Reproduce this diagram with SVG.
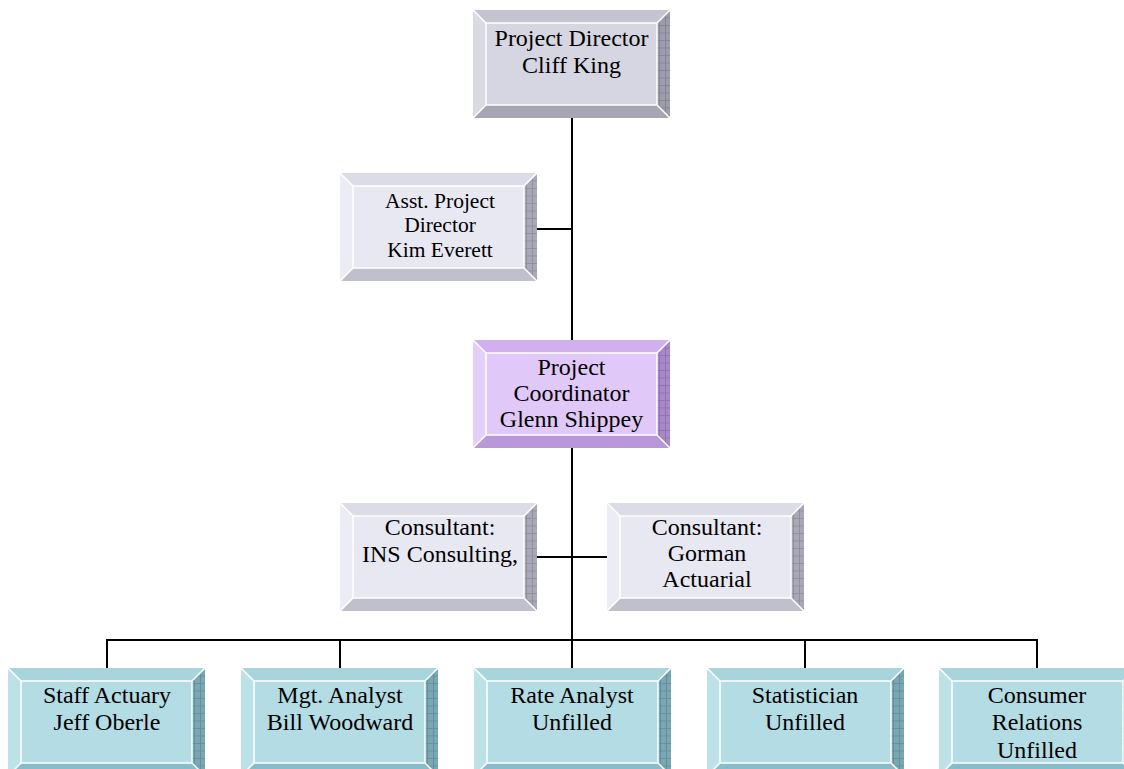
<svg xmlns="http://www.w3.org/2000/svg" width="1124" height="769" viewBox="0 0 1124 769">
<defs>
<pattern id="grid" width="6" height="7.5" patternUnits="userSpaceOnUse">
<path d="M0 0.5H6M0.5 0V7.5" stroke="#000" stroke-opacity="0.14" stroke-width="1" fill="none"/>
</pattern>
<g id="overlay">
<polygon points="197,0 197,108 184,95 184,13" fill="url(#grid)"/>
<rect x="13" y="13" width="171" height="82" fill="none" stroke="#fff" stroke-width="1.5"/>
<path d="M0,0L13,13M197,0L184,13M0,108L13,95M197,108L184,95" stroke="#fff" stroke-width="1.5"/>
</g>
</defs>
<style>
.t{font-family:"Liberation Serif","Times New Roman",serif;font-size:24px;fill:#000;text-anchor:middle}
.s{font-size:21.5px}
.gray .tp{fill:#c4c4d0}.gray .lf{fill:#dadae4}.gray .bt{fill:#a6a6b2}.gray .rt{fill:#9c9cac}.gray .fc{fill:#d6d6e2}
.lt .tp{fill:#dcdce8}.lt .lf{fill:#ececf6}.lt .bt{fill:#c0c0cc}.lt .rt{fill:#a8a8b8}.lt .fc{fill:#e8e8f2}
.pu .tp{fill:#d0b0ee}.pu .lf{fill:#e4cefa}.pu .bt{fill:#b898d8}.pu .rt{fill:#a888c8}.pu .fc{fill:#e0c8f8}
.te .tp{fill:#a8d4dc}.te .lf{fill:#bce2e8}.te .bt{fill:#88bcc8}.te .rt{fill:#78a8b4}.te .fc{fill:#b4dce4}
.ln{stroke:#000;stroke-width:2;fill:none}
</style>
<g id="connectors">
<path class="ln" d="M572,118V340M572,447V640M537,229H572M537,557H607M107,668V640H1037V668M340,640V668M572,640V668M805,640V668"/>
</g>
<g id="director" class="gray" transform="translate(473,10)">
<polygon class="tp" points="0,0 197,0 184,13 13,13"/><polygon class="lf" points="0,0 13,13 13,95 0,108"/><polygon class="bt" points="0,108 13,95 184,95 197,108"/><polygon class="rt" points="197,0 197,108 184,95 184,13"/><rect class="fc" x="13" y="13" width="171" height="82"/><use href="#overlay"/>
<text class="t" x="98.5" y="36">Project Director</text><text class="t" x="98.5" y="63">Cliff King</text>
</g>
<g id="asst" class="lt" transform="translate(340,173)">
<polygon class="tp" points="0,0 197,0 184,13 13,13"/><polygon class="lf" points="0,0 13,13 13,95 0,108"/><polygon class="bt" points="0,108 13,95 184,95 197,108"/><polygon class="rt" points="197,0 197,108 184,95 184,13"/><rect class="fc" x="13" y="13" width="171" height="82"/><use href="#overlay"/>
<text class="t s" x="100" y="35">Asst. Project</text><text class="t s" x="100" y="59">Director</text><text class="t s" x="100" y="84">Kim Everett</text>
</g>
<g id="coordinator" class="pu" transform="translate(473,340)">
<polygon class="tp" points="0,0 197,0 184,13 13,13"/><polygon class="lf" points="0,0 13,13 13,95 0,108"/><polygon class="bt" points="0,108 13,95 184,95 197,108"/><polygon class="rt" points="197,0 197,108 184,95 184,13"/><rect class="fc" x="13" y="13" width="171" height="82"/><use href="#overlay"/>
<text class="t" x="98.5" y="35">Project</text><text class="t" x="98.5" y="61">Coordinator</text><text class="t" x="98.5" y="87">Glenn Shippey</text>
</g>
<g id="ins" class="lt" transform="translate(340,503)">
<polygon class="tp" points="0,0 197,0 184,13 13,13"/><polygon class="lf" points="0,0 13,13 13,95 0,108"/><polygon class="bt" points="0,108 13,95 184,95 197,108"/><polygon class="rt" points="197,0 197,108 184,95 184,13"/><rect class="fc" x="13" y="13" width="171" height="82"/><use href="#overlay"/>
<text class="t" x="100" y="32">Consultant:</text><text class="t" x="100" y="59">INS Consulting,</text>
</g>
<g id="gorman" class="lt" transform="translate(607,503)">
<polygon class="tp" points="0,0 197,0 184,13 13,13"/><polygon class="lf" points="0,0 13,13 13,95 0,108"/><polygon class="bt" points="0,108 13,95 184,95 197,108"/><polygon class="rt" points="197,0 197,108 184,95 184,13"/><rect class="fc" x="13" y="13" width="171" height="82"/><use href="#overlay"/>
<text class="t" x="100" y="32">Consultant:</text><text class="t" x="100" y="58">Gorman</text><text class="t" x="100" y="84">Actuarial</text>
</g>
<g id="staff" class="te" transform="translate(8,668)">
<polygon class="tp" points="0,0 197,0 184,13 13,13"/><polygon class="lf" points="0,0 13,13 13,95 0,108"/><polygon class="bt" points="0,108 13,95 184,95 197,108"/><polygon class="rt" points="197,0 197,108 184,95 184,13"/><rect class="fc" x="13" y="13" width="171" height="82"/><use href="#overlay"/>
<text class="t" x="99" y="35">Staff Actuary</text><text class="t" x="99" y="62">Jeff Oberle</text>
</g>
<g id="mgt" class="te" transform="translate(241,668)">
<polygon class="tp" points="0,0 197,0 184,13 13,13"/><polygon class="lf" points="0,0 13,13 13,95 0,108"/><polygon class="bt" points="0,108 13,95 184,95 197,108"/><polygon class="rt" points="197,0 197,108 184,95 184,13"/><rect class="fc" x="13" y="13" width="171" height="82"/><use href="#overlay"/>
<text class="t" x="99" y="35">Mgt. Analyst</text><text class="t" x="99" y="62">Bill Woodward</text>
</g>
<g id="rate" class="te" transform="translate(474,668)">
<polygon class="tp" points="0,0 197,0 184,13 13,13"/><polygon class="lf" points="0,0 13,13 13,95 0,108"/><polygon class="bt" points="0,108 13,95 184,95 197,108"/><polygon class="rt" points="197,0 197,108 184,95 184,13"/><rect class="fc" x="13" y="13" width="171" height="82"/><use href="#overlay"/>
<text class="t" x="98" y="35">Rate Analyst</text><text class="t" x="98" y="62">Unfilled</text>
</g>
<g id="statistician" class="te" transform="translate(707,668)">
<polygon class="tp" points="0,0 197,0 184,13 13,13"/><polygon class="lf" points="0,0 13,13 13,95 0,108"/><polygon class="bt" points="0,108 13,95 184,95 197,108"/><polygon class="rt" points="197,0 197,108 184,95 184,13"/><rect class="fc" x="13" y="13" width="171" height="82"/><use href="#overlay"/>
<text class="t" x="98" y="35">Statistician</text><text class="t" x="98" y="62">Unfilled</text>
</g>
<g id="consumer" class="te" transform="translate(939,668)">
<polygon class="tp" points="0,0 197,0 184,13 13,13"/><polygon class="lf" points="0,0 13,13 13,95 0,108"/><polygon class="bt" points="0,108 13,95 184,95 197,108"/><polygon class="rt" points="197,0 197,108 184,95 184,13"/><rect class="fc" x="13" y="13" width="171" height="82"/><use href="#overlay"/>
<text class="t" x="98" y="35">Consumer</text><text class="t" x="98" y="62">Relations</text><text class="t" x="98" y="90">Unfilled</text>
</g>
</svg>
